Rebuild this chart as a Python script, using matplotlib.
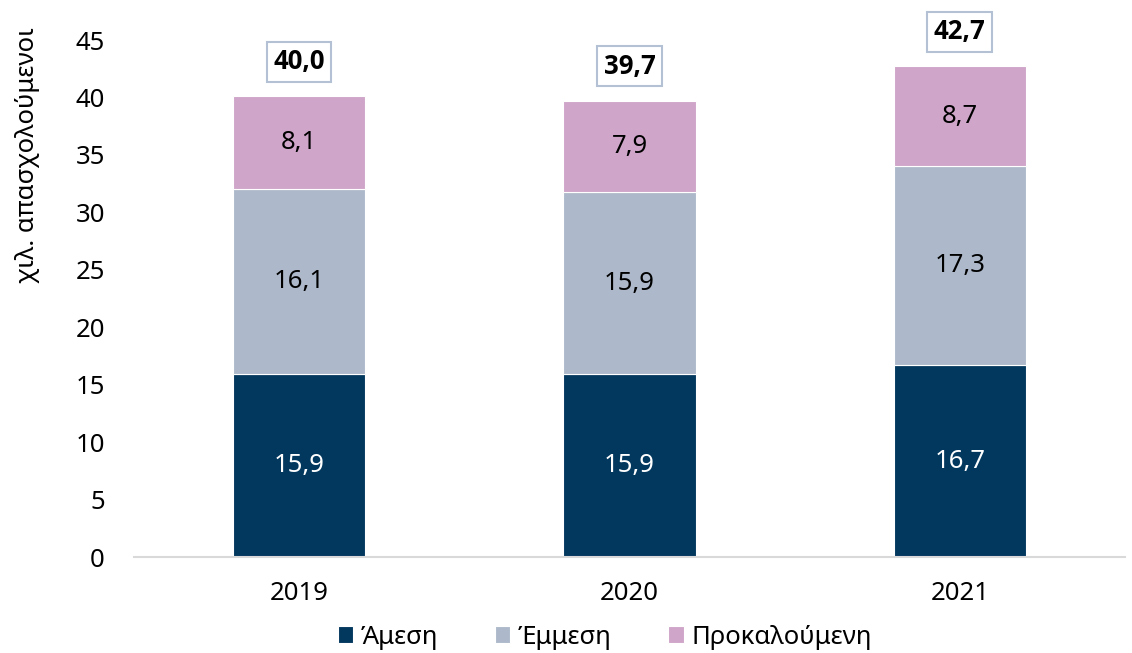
import matplotlib.pyplot as plt

plt.rcParams["font.family"] = ["Noto Sans", "DejaVu Sans"]

years = ["2019", "2020", "2021"]
direct = [15.9, 15.9, 16.7]
indirect = [16.1, 15.9, 17.3]
induced = [8.1, 7.9, 8.7]
totals = [40.0, 39.7, 42.7]

series_names = ["Άμεση", "Έμμεση", "Προκαλούμενη"]
colors = ["#02375E", "#ADB9CA", "#CFA6C9"]
text_colors = ["white", "black", "black"]

FS = 18.5


def fmt(v):
    return f"{v:.1f}".replace(".", ",")


fig = plt.figure(figsize=(11.32, 6.53), dpi=100)
ax = fig.add_axes([0.1184, 0.147, 0.8754, 0.7917])

x = range(len(years))
bottom = [0.0] * len(years)
for vals, name, color, tcol in zip([direct, indirect, induced], series_names, colors, text_colors):
    ax.bar(x, vals, width=0.4, bottom=bottom, color=color, label=name,
           edgecolor="white", linewidth=0.8)
    for i, v in enumerate(vals):
        ax.text(i, bottom[i] + v / 2, fmt(v), ha="center", va="center",
                fontsize=FS, color=tcol)
    bottom = [b + v for b, v in zip(bottom, vals)]

# Totals in framed boxes above each stack
for i, t in enumerate(totals):
    ax.annotate(fmt(t), xy=(i, bottom[i]), xytext=(0, 25), textcoords="offset points",
                ha="center", va="center", fontsize=FS, fontweight="bold",
                family=["Open Sans", "DejaVu Sans"],
                bbox=dict(boxstyle="square,pad=0.25", facecolor="white",
                          edgecolor="#B4C0D3", linewidth=1.5),
                annotation_clip=False)

ax.set_xlim(-0.5, 2.5)
ax.set_ylim(0, 45)
ax.set_yticks(range(0, 46, 5))
ax.set_xticks(list(x))
ax.set_xticklabels(years)
ax.tick_params(axis="both", length=0, labelsize=FS)
ax.tick_params(axis="y", pad=21)
ax.tick_params(axis="x", pad=17)

for side in ["top", "right", "left"]:
    ax.spines[side].set_visible(False)
ax.spines["bottom"].set_color("#D9D9D9")
ax.spines["bottom"].set_linewidth(1.5)

ax.set_ylabel("χιλ. απασχολούμενοι", fontsize=FS, loc="top")
ax.yaxis.set_label_coords(-0.095, 1.025)

ax.legend(loc="center", bbox_to_anchor=(0.475, -0.155), ncol=3, frameon=False,
          fontsize=FS, handlelength=0.6, handleheight=0.6, handletextpad=0.3,
          columnspacing=2.2)

fig.savefig("out.png", dpi=100)
